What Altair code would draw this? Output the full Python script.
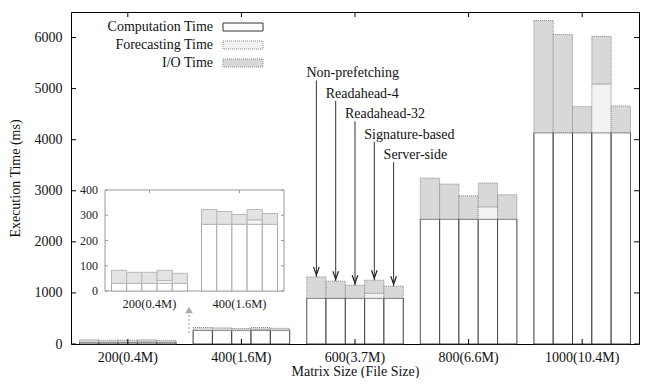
import altair as alt
import pandas as pd

# ---------------- data ----------------
groups = ["200(0.4M)", "400(1.6M)", "600(3.7M)", "800(6.6M)", "1000(10.4M)"]
configs = ["Non-prefetching", "Readahead-4", "Readahead-32", "Signature-based", "Server-side"]
components = ["Computation Time", "Forecasting Time", "I/O Time"]

# computation time per matrix size (same for every configuration)
computation = [30, 264, 896, 2445, 4137]
# forecasting time per matrix size (Signature-based only)
forecasting = [12, 18, 98, 241, 955]
# I/O time per matrix size, one value per configuration
io_200 = [52, 44, 44, 40, 40]
io_400 = [59, 51, 39, 41, 43]
io_600 = [418, 333, 254, 255, 235]
io_800 = [804, 686, 457, 465, 477]
io_1000 = [2196, 1922, 510, 928, 523]
io_time = [io_200, io_400, io_600, io_800, io_1000]

y_ticks = [0, 1000, 2000, 3000, 4000, 5000, 6000]
inset_groups = ["200(0.4M)", "400(1.6M)"]
inset_ticks = [0, 100, 200, 300, 400]

annot_group = "600(3.7M)"
label_levels = [5300, 4900, 4500, 4100, 3700]  # heights (ms) of the annotation labels

# ---------------- tables ----------------
rows = []
for gi, g in enumerate(groups):
    for ci, c in enumerate(configs):
        rows.append({"group": g, "config": c, "component": components[0], "value": computation[gi], "order": 0})
        if c == "Signature-based":
            rows.append({"group": g, "config": c, "component": components[1], "value": forecasting[gi], "order": 1})
        rows.append({"group": g, "config": c, "component": components[2], "value": io_time[gi][ci], "order": 2})
df = pd.DataFrame(rows)
df_inset = df[df["group"].isin(inset_groups)]

gi6 = groups.index(annot_group)
ann = pd.DataFrame({
    "group": [annot_group] * 5,
    "config": configs,
    "total": [computation[gi6] + io_time[gi6][i] + (forecasting[gi6] if c == "Signature-based" else 0)
              for i, c in enumerate(configs)],
    "level": label_levels,
})
ann["line_top"] = ann["level"] - 140

W, H = 568, 332
FONT = "Liberation Serif"
FS = 14

fills = ["#ffffff", "#f2f2f2", "#d8d8d8"]
strokes = ["#333333", "#8a8a8a", "#8a8a8a"]
dashes = [[1, 0], [1, 1], [1, 1]]

x_title = "Matrix Size (File Size)"
y_title = "Execution Time (ms)"

x_scale = alt.Scale(domain=groups, paddingInner=0.15, paddingOuter=0.075)
y_scale = alt.Scale(domain=[0, 6500], nice=False, zero=True)
xoff = alt.XOffset("config:N", scale=alt.Scale(domain=configs, paddingInner=0, paddingOuter=0))


def X():
    return alt.X("group:N", scale=x_scale, sort=groups, title=x_title,
                 axis=alt.Axis(labelAngle=0, ticks=False, domain=False, labelPadding=6,
                               titlePadding=0, grid=False))


def y_axis():
    return alt.Axis(values=y_ticks, format="d", ticks=False, domain=False, labelPadding=9,
                    titlePadding=12, grid=False)


def Y(field):
    return alt.Y(field, scale=y_scale, title=y_title, axis=y_axis())


bars = alt.Chart(df).mark_bar(strokeWidth=1).encode(
    x=X(),
    xOffset=xoff,
    y=alt.Y("value:Q", stack="zero", scale=y_scale, title=y_title, axis=y_axis()),
    fill=alt.Fill("component:N", scale=alt.Scale(domain=components, range=fills), legend=None),
    stroke=alt.Stroke("component:N", scale=alt.Scale(domain=components, range=strokes), legend=None),
    strokeDash=alt.StrokeDash("component:N", scale=alt.Scale(domain=components, range=dashes), legend=None),
    order=alt.Order("order:Q", sort="ascending"),
)

tick_df = pd.DataFrame({"tick": y_ticks})
yticks_l = alt.Chart(tick_df).mark_rule(color="black").encode(
    y=Y("tick:Q"), x=alt.value(0), x2=alt.value(5))
yticks_r = alt.Chart(tick_df).mark_rule(color="black").encode(
    y=Y("tick:Q"), x=alt.value(W - 5), x2=alt.value(W))
grp_df = pd.DataFrame({"group": groups})
xticks_t = alt.Chart(grp_df).mark_rule(color="black").encode(
    x=X(), y=alt.value(0), y2=alt.value(5))
xticks_b = alt.Chart(grp_df).mark_rule(color="black").encode(
    x=X(), y=alt.value(H - 5), y2=alt.value(H))

ann_rule = alt.Chart(ann).mark_rule(color="#333333", strokeWidth=1).encode(
    x=X(), xOffset=xoff, y=Y("line_top:Q"), y2="total:Q")
ann_head = alt.Chart(ann).mark_point(shape="M-0.7,-1L0,1L0.7,-1", filled=False, size=64,
                                     strokeWidth=1.2, color="#222222", yOffset=-6, opacity=1).encode(
    x=X(), xOffset=xoff, y=Y("total:Q"))
ann_text = alt.Chart(ann).mark_text(align="left", baseline="middle", dx=-10, font=FONT,
                                    fontSize=FS, color="#111111").encode(
    x=X(), xOffset=xoff, y=Y("level:Q"), text="config:N")

# legend (gnuplot style: label then swatch)
legend_layers = []
for i, comp in enumerate(components):
    yc = 15 + 18 * i
    one = pd.DataFrame({"label": [comp]})
    legend_layers.append(alt.Chart(one).mark_text(align="right", baseline="middle", font=FONT,
                                                  fontSize=FS, color="#111111").encode(
        text="label:N", x=alt.value(142), y=alt.value(yc)))
    legend_layers.append(alt.Chart(one).mark_rect(fill=fills[i], stroke=strokes[i], strokeWidth=1,
                                                  strokeDash=dashes[i]).encode(
        x=alt.value(152), x2=alt.value(192), y=alt.value(yc - 4), y2=alt.value(yc + 4)))

one_row = pd.DataFrame({"a": [0]})
zoom_line = alt.Chart(one_row).mark_rule(color="#aaaaaa", strokeDash=[2, 2], strokeWidth=1.2).encode(
    x=alt.value(118), y=alt.value(299), y2=alt.value(322))
zoom_head = alt.Chart(one_row).mark_point(shape="triangle-up", filled=True, size=60,
                                          color="#aaaaaa", opacity=1).encode(
    x=alt.value(118), y=alt.value(298))

main = alt.layer(bars, yticks_l, yticks_r, xticks_t, xticks_b, ann_rule, ann_head, ann_text,
                 *legend_layers, zoom_line, zoom_head)

# ---------------- inset ----------------
IX0, IX1, IY0, IY1 = 34, 213, 178, 279
ix_scale = alt.Scale(domain=inset_groups, range=[IX0, IX1], paddingInner=0.156, paddingOuter=0.072)
iy_scale = alt.Scale(domain=[0, 400], range=[IY1, IY0], nice=False, zero=True)
ifills = ["#ffffff", "#f4f4f4", "#e3e3e3"]
istrokes = ["#a8a8a8", "#b8b8b8", "#b8b8b8"]

inset_frame = alt.Chart(one_row).mark_rect(fill="white", stroke="#999999", strokeWidth=1).encode(
    x=alt.value(IX0), x2=alt.value(IX1), y=alt.value(IY0), y2=alt.value(IY1))


def IX():
    return alt.X("group:N", scale=ix_scale, sort=inset_groups, axis=None)


def IY(field):
    return alt.Y(field, scale=iy_scale, axis=None)


inset_bars = alt.Chart(df_inset).mark_bar(strokeWidth=1).encode(
    x=IX(),
    xOffset=alt.XOffset("config:N", scale=alt.Scale(domain=configs, paddingInner=0, paddingOuter=0)),
    y=alt.Y("value:Q", stack="zero", scale=iy_scale, axis=None),
    fill=alt.Fill("component:N", scale=alt.Scale(domain=components, range=ifills), legend=None),
    stroke=alt.Stroke("component:N", scale=alt.Scale(domain=components, range=istrokes), legend=None),
    order=alt.Order("order:Q", sort="ascending"),
)
itick_df = pd.DataFrame({"tick": inset_ticks})
inset_ylabels = alt.Chart(itick_df).mark_text(align="right", baseline="middle", font=FONT,
                                              fontSize=12, color="#222222").encode(
    x=alt.value(IX0 - 7), y=IY("tick:Q"), text="tick:Q")
inset_yt_l = alt.Chart(itick_df).mark_rule(color="#999999").encode(
    y=IY("tick:Q"), x=alt.value(IX0), x2=alt.value(IX0 + 3))
inset_yt_r = alt.Chart(itick_df).mark_rule(color="#999999").encode(
    y=IY("tick:Q"), x=alt.value(IX1 - 3), x2=alt.value(IX1))
igrp_df = pd.DataFrame({"group": inset_groups})
inset_xlabels = alt.Chart(igrp_df).mark_text(baseline="middle", font=FONT, fontSize=12.5,
                                             color="#222222").encode(
    x=IX(), y=alt.value(IY1 + 13), text="group:N")
inset_xt_t = alt.Chart(igrp_df).mark_rule(color="#999999").encode(
    x=IX(), y=alt.value(IY0), y2=alt.value(IY0 + 3))

inset = alt.layer(inset_frame, inset_bars, inset_ylabels, inset_yt_l, inset_yt_r,
                  inset_xlabels, inset_xt_t)

chart = alt.layer(main, inset).resolve_scale(
    x="independent", y="independent", xOffset="independent",
    fill="independent", stroke="independent", strokeDash="independent",
).properties(
    width=W, height=H, padding={"left": 0, "top": 3, "right": 0, "bottom": 0}
).configure_view(
    stroke="black", strokeWidth=1
).configure_axis(
    labelFont=FONT, titleFont=FONT, labelFontSize=FS, titleFontSize=FS,
    labelColor="#111111", titleColor="#111111", titleFontWeight="normal"
)

chart.save("out.html", embed_options={"renderer": "svg", "actions": False})
